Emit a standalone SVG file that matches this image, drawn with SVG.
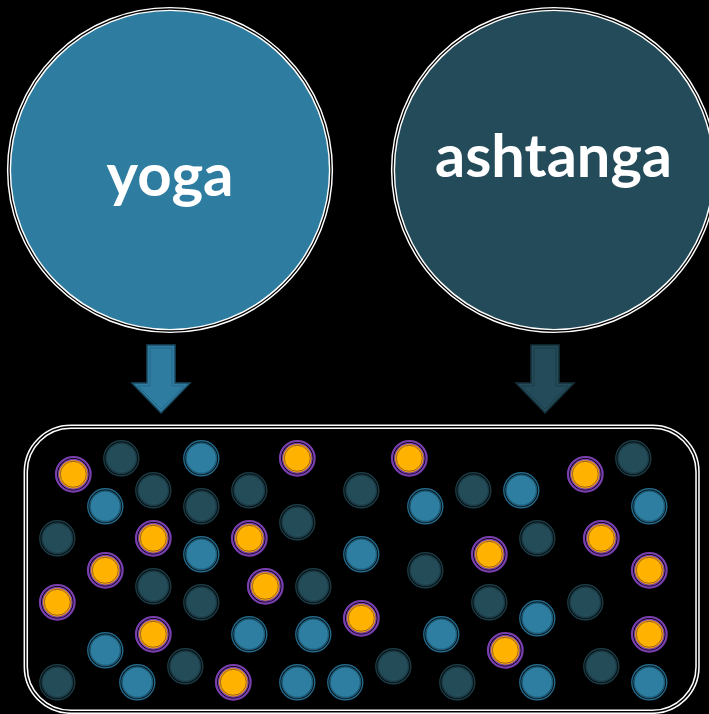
<svg xmlns="http://www.w3.org/2000/svg" xmlns:xlink="http://www.w3.org/1999/xlink" width="709" height="714" viewBox="0 0 709 714">
<style>
.lbl{font-family:Lato,"Open Sans","Liberation Sans",sans-serif;font-weight:700;fill:#ffffff;text-anchor:middle}
.ring{fill:none;stroke:#000000;stroke-width:1.3}
</style>
<defs>
<g id="dot-o">
<circle r="17.3" fill="none" stroke="#7a3fae" stroke-width="2.2"/>
<circle r="14.8" fill="#ffb200" stroke="#7a3fae" stroke-width="1.3"/>
<circle r="13" fill="none" stroke="#8a5524" stroke-width="0.9"/>
</g>
<g id="dot-b">
<circle r="17.5" fill="none" stroke="#22698a" stroke-width="1.4"/>
<circle r="15.3" fill="#2e7ea1" stroke="#1d5c77" stroke-width="1.6"/>
</g>
<g id="dot-d">
<circle r="17.5" fill="none" stroke="#1b3c47" stroke-width="1.4"/>
<circle r="15.3" fill="#244b58" stroke="#1a3944" stroke-width="1.6"/>
</g>
</defs>
<rect width="709" height="714" fill="#000000"/>

<g id="node-yoga">
<circle cx="170" cy="170" r="161" fill="#2e7da0" stroke="#ffffff" stroke-width="4.2"/>
<circle cx="170" cy="170" r="161" class="ring"/>
<text class="lbl" x="170" y="196" font-size="60">yoga</text>
</g>

<g id="node-ashtanga">
<circle cx="554" cy="170" r="161" fill="#244b59" stroke="#ffffff" stroke-width="4.2"/>
<circle cx="554" cy="170" r="161" class="ring"/>
<text class="lbl" x="553.5" y="177" font-size="60" textLength="237" lengthAdjust="spacingAndGlyphs">ashtanga</text>
</g>

<g id="connectors">
<g id="arrow-yoga">
<polygon points="147,345 175,345 175,383 190,383 161,413 132,383 147,383" fill="#2e7da0" stroke="#1a4a60" stroke-width="1.5"/>
<polygon points="150,348 172,348 172,386 184,386 161,409 138,386 150,386" fill="none" stroke="#25698a" stroke-width="1"/>
</g>
<g id="arrow-ashtanga">
<polygon points="531,345 559,345 559,383 574,383 545,413 516,383 531,383" fill="#244b59" stroke="#15303a" stroke-width="1.5"/>
<polygon points="534,348 556,348 556,386 568,386 545,409 522,386 534,386" fill="none" stroke="#1c3d49" stroke-width="1"/>
</g>
</g>

<g id="node-pool">
<rect x="25.8" y="426.8" width="671.7" height="285" rx="45" fill="#000000" stroke="#ffffff" stroke-width="4.5"/>
<rect x="25.8" y="426.8" width="671.7" height="285" rx="45" fill="none" stroke="#000000" stroke-width="1.4"/>
<g id="dots">
<use xlink:href="#dot-o" x="73.3" y="474.3"/>
<use xlink:href="#dot-d" x="121.3" y="458.3"/>
<use xlink:href="#dot-b" x="201.3" y="458.3"/>
<use xlink:href="#dot-o" x="297.3" y="458.3"/>
<use xlink:href="#dot-b" x="105.3" y="506.3"/>
<use xlink:href="#dot-d" x="153.3" y="490.3"/>
<use xlink:href="#dot-d" x="201.3" y="506.3"/>
<use xlink:href="#dot-d" x="249.3" y="490.3"/>
<use xlink:href="#dot-d" x="297.3" y="522.3"/>
<use xlink:href="#dot-d" x="57.3" y="538.3"/>
<use xlink:href="#dot-o" x="153.3" y="538.3"/>
<use xlink:href="#dot-o" x="249.3" y="538.3"/>
<use xlink:href="#dot-b" x="201.3" y="554.3"/>
<use xlink:href="#dot-o" x="105.3" y="570.3"/>
<use xlink:href="#dot-d" x="153.3" y="586.3"/>
<use xlink:href="#dot-d" x="201.3" y="602.3"/>
<use xlink:href="#dot-o" x="265.3" y="586.3"/>
<use xlink:href="#dot-d" x="313.3" y="586.3"/>
<use xlink:href="#dot-o" x="57.3" y="602.3"/>
<use xlink:href="#dot-o" x="153.3" y="634.3"/>
<use xlink:href="#dot-b" x="105.3" y="650.3"/>
<use xlink:href="#dot-b" x="249.3" y="634.3"/>
<use xlink:href="#dot-b" x="313.3" y="634.3"/>
<use xlink:href="#dot-d" x="185.3" y="666.3"/>
<use xlink:href="#dot-d" x="57.3" y="682.3"/>
<use xlink:href="#dot-b" x="137.3" y="682.3"/>
<use xlink:href="#dot-o" x="233.3" y="682.3"/>
<use xlink:href="#dot-b" x="297.3" y="682.3"/>
<use xlink:href="#dot-b" x="345.3" y="682.3"/>
<use xlink:href="#dot-d" x="361.3" y="490.3"/>
<use xlink:href="#dot-b" x="361.3" y="554.3"/>
<use xlink:href="#dot-o" x="361.3" y="618.3"/>
<use xlink:href="#dot-o" x="409.3" y="458.3"/>
<use xlink:href="#dot-b" x="425.3" y="506.3"/>
<use xlink:href="#dot-d" x="473.3" y="490.3"/>
<use xlink:href="#dot-b" x="521.3" y="490.3"/>
<use xlink:href="#dot-o" x="585.3" y="474.3"/>
<use xlink:href="#dot-d" x="633.3" y="458.3"/>
<use xlink:href="#dot-b" x="649.3" y="506.3"/>
<use xlink:href="#dot-d" x="425.3" y="570.3"/>
<use xlink:href="#dot-o" x="489.3" y="554.3"/>
<use xlink:href="#dot-d" x="537.3" y="538.3"/>
<use xlink:href="#dot-o" x="601.3" y="538.3"/>
<use xlink:href="#dot-o" x="649.3" y="570.3"/>
<use xlink:href="#dot-d" x="489.3" y="602.3"/>
<use xlink:href="#dot-b" x="537.3" y="618.3"/>
<use xlink:href="#dot-d" x="585.3" y="602.3"/>
<use xlink:href="#dot-b" x="441.3" y="634.3"/>
<use xlink:href="#dot-o" x="505.3" y="650.3"/>
<use xlink:href="#dot-o" x="649.3" y="634.3"/>
<use xlink:href="#dot-d" x="393.3" y="666.3"/>
<use xlink:href="#dot-d" x="457.3" y="682.3"/>
<use xlink:href="#dot-b" x="537.3" y="682.3"/>
<use xlink:href="#dot-d" x="601.3" y="666.3"/>
<use xlink:href="#dot-b" x="649.3" y="682.3"/>
</g>
</g>
</svg>
